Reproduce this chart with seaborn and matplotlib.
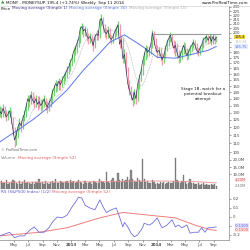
import numpy as np
import pandas as pd
import matplotlib
matplotlib.use("Agg")
import matplotlib.pyplot as plt
import seaborn as sns

# ---------------- data ----------------
first_open = 130.0
close = [131, 129, 133, 130, 127, 129, 131, 126, 119, 112,
         115, 120, 123, 121, 126, 129, 134, 140, 138, 143,
         139, 137, 140, 136, 138, 135, 137, 140, 136, 134,
         137, 139, 145, 148, 152, 150, 154, 151, 155, 158,
         160, 164, 166, 171, 174, 181, 183, 189, 193, 204,
         207, 202, 204, 197, 194, 196, 192, 187, 196, 199,
         197, 214, 216, 208, 201, 199, 203, 195, 193, 196,
         201, 204, 209, 188, 193, 174, 178, 164, 152, 147,
         143, 139, 145, 140, 151, 157, 162, 171, 177, 184,
         180, 182, 187, 200, 192, 184, 180, 182, 177, 173,
         177, 184, 190, 194, 198, 190, 184, 187, 180, 175,
         177, 182, 187, 182, 177, 180, 184, 187, 190, 187,
         182, 180, 184, 187, 193, 194, 196, 192, 196, 191,
         196, 192, 195.4]
high = [135, 134, 136, 135, 132, 132, 134, 132, 127, 120,
        118, 122, 126, 125, 128, 132, 137, 143, 143, 146,
        145, 142, 143, 142, 142, 140, 140, 143, 141, 138,
        140, 142, 148, 151, 155, 154, 157, 156, 158, 161,
        163, 167, 170, 174, 178, 185, 187, 193, 197, 208,
        211, 209, 208, 205, 200, 200, 198, 194, 199, 203,
        203, 217, 221, 218, 210, 205, 207, 205, 198, 200,
        205, 208, 213, 210, 197, 195, 183, 180, 166, 155,
        150, 146, 148, 147, 153, 160, 165, 174, 180, 187,
        186, 186, 190, 203, 202, 194, 187, 185, 184, 179,
        180, 187, 193, 197, 201, 199, 192, 191, 189, 182,
        181, 185, 190, 189, 184, 183, 187, 190, 193, 192,
        189, 184, 187, 190, 196, 197, 199, 198, 199, 198,
        199, 198, 197]
low = [127, 126, 127, 127, 124, 125, 127, 122, 115, 108,
       109, 113, 118, 117, 119, 124, 127, 132, 134, 136,
       136, 133, 134, 132, 133, 131, 132, 134, 132, 130,
       131, 134, 137, 142, 145, 146, 147, 147, 149, 152,
       154, 157, 160, 163, 167, 171, 177, 179, 185, 189,
       199, 196, 197, 191, 188, 189, 186, 181, 184, 192,
       192, 194, 208, 202, 196, 193, 195, 190, 188, 189,
       193, 197, 199, 184, 184, 170, 170, 160, 148, 143,
       139, 135, 136, 136, 138, 148, 154, 159, 168, 173,
       175, 176, 178, 184, 187, 180, 175, 176, 172, 168,
       170, 175, 181, 186, 190, 186, 179, 176, 175, 170,
       171, 174, 178, 178, 173, 174, 177, 181, 184, 183,
       178, 176, 177, 181, 184, 189, 190, 188, 189, 187,
       188, 188, 190]
volume_m = [4.5, 5.2, 3.8, 4.1, 6.0, 3.5, 4.2, 5.0, 6.5, 5.8,
            4.0, 3.6, 5.5, 3.2, 4.8, 6.2, 3.9, 5.1, 4.4, 3.7,
            4.6, 3.3, 5.0, 4.2, 7.2, 3.8, 4.5, 3.6, 5.3, 4.0,
            3.5, 4.8, 5.6, 4.1, 7.0, 4.4, 3.9, 5.2, 4.6, 3.8,
            4.9, 5.5, 4.0, 6.1, 4.7, 5.3, 3.9, 4.5, 6.0, 5.0,
            4.2, 3.6, 5.4, 4.3, 3.9, 4.8, 3.5, 5.7, 4.6, 4.0,
            4.4, 6.8, 5.2, 4.7, 3.8, 11.4, 5.0, 4.3, 6.2, 7.8,
            4.9, 5.5, 10.7, 6.0, 5.1, 7.0, 5.6, 6.4, 8.1, 5.9,
            12.8, 6.6, 5.3, 4.8, 7.4, 6.1, 5.0, 20.7, 6.8, 4.6,
            5.4, 4.2, 3.9, 6.3, 4.7, 3.6, 4.1, 3.4, 5.0, 3.8,
            4.5, 3.7, 4.2, 5.1, 3.9, 4.4, 5.6, 21.4, 6.5, 4.8,
            3.9, 5.2, 9.3, 4.6, 3.5, 4.0, 7.1, 3.8, 4.3, 3.2,
            3.6, 4.1, 2.9, 3.4, 3.9, 2.7, 3.3, 2.5, 3.0, 3.6,
            2.6, 3.1, 2.4]
ma30_weeks = [0, 10, 20, 30, 41, 51, 61, 67, 76, 87, 96, 107, 117, 127, 132]
ma30_vals = [110.9, 117.6, 124.9, 134.0, 146.8, 163.5, 179.4, 190.0, 197.8,
             185.8, 175.2, 174.4, 178.0, 182.0, 185.75]
vol_ma_weeks = [0, 20, 40, 60, 80, 100, 120, 132]
vol_ma_vals = [4.6, 4.7, 4.8, 5.0, 5.4, 5.5, 5.0, 4.2]
rs_weeks = [0, 6, 9, 12, 15, 18, 21, 24, 27, 30, 32, 35, 38, 41, 43, 44, 46, 48,
            50, 52, 55, 58, 61, 63, 65, 68, 71, 73, 75, 76, 78, 80, 82, 84, 87,
            88, 91, 93, 96, 98, 99, 102, 105, 107, 109, 111, 114, 116, 118, 121,
            123, 125, 127, 129, 132]
rs_vals = [-0.21, -0.17, -0.23, -0.21, -0.21, -0.15, -0.11, -0.17, -0.17, -0.12,
           -0.06, 0.00, -0.01, 0.02, 0.08, 0.11, 0.16, 0.22, 0.21, 0.13, 0.10,
           0.08, 0.19, 0.11, 0.05, 0.08, 0.10, 0.00, -0.11, -0.06, -0.11, -0.18,
           -0.22, -0.20, -0.12, -0.07, -0.09, -0.07, -0.01, -0.09, -0.12, -0.09,
           -0.03, -0.11, -0.09, -0.12, -0.09, -0.18, -0.17, -0.17, -0.12, -0.17,
           -0.12, -0.12, -0.11]
rs_ma_weeks = [0, 24, 41, 61, 75, 91, 107, 119, 128, 132]
rs_ma_vals = [-0.21, -0.17, -0.12, -0.01, 0.05, 0.02, -0.01, -0.09, -0.14, -0.15]
month_ticks = ["2012-05-01", "2012-07-01", "2012-09-01", "2012-11-01", "2013-01-01",
               "2013-03-01", "2013-05-01", "2013-07-01", "2013-09-01", "2013-11-01",
               "2014-01-01", "2014-03-01", "2014-05-01", "2014-07-01", "2014-09-01"]
month_labels = ["May", "Jul", "Sep", "Nov", "2013", "Mar", "May", "Jul", "Sep", "Nov",
                "2014", "Mar", "May", "Jul", "Sep"]
price_ticks = list(range(105, 231, 5))
price_tick_hidden = [185, 190, 195]
resistance_level = 199.0

# ---------------- setup ----------------
sns.set_theme(style="white")
plt.rcParams['font.family'] = ['DejaVu Sans']
plt.rcParams['axes.linewidth'] = 0.5

dates = pd.date_range(end="2014-09-12", periods=len(close), freq="W-FRI")
df = pd.DataFrame({"date": dates, "close": close, "high": high, "low": low,
                   "volume": volume_m})
df["open"] = df["close"].shift(1).fillna(first_open)
df["ma10"] = df["close"].rolling(10).mean()
up = df["close"] >= df["open"]

ma30 = pd.DataFrame({"date": dates[ma30_weeks], "v": ma30_vals})
vma = pd.DataFrame({"date": dates[vol_ma_weeks], "v": vol_ma_vals})
rs = pd.DataFrame({"date": dates[rs_weeks], "v": rs_vals})
rsma = pd.DataFrame({"date": dates[rs_ma_weeks], "v": rs_ma_vals})

W, H = 250, 250
fig = plt.figure(figsize=(2.5, 2.5), dpi=100)
fig.patch.set_facecolor("white")

def fx(px): return px / W
def fy(py): return 1 - py / H

axw = 229
ax_p = fig.add_axes([0, fy(154), fx(axw), (154 - 6) / H])
ax_v = fig.add_axes([0, fy(189), fx(axw), (189 - 154) / H], sharex=ax_p)
ax_r = fig.add_axes([0, fy(240), fx(axw), (240 - 189) / H], sharex=ax_p)

xleft = pd.Timestamp("2012-03-03")
xright = xleft + pd.Timedelta(days=977)

GREEN = "#74d474"
PINK = "#f49ab0"
NAVY = "#27275e"
BLUE = "#5b78e8"
TS = 2.9
VS = 2.6

# ---------------- price panel ----------------
ax_p.vlines(df["date"][up], df["low"][up], df["high"][up], color=GREEN, lw=0.9)
ax_p.vlines(df["date"][~up], df["low"][~up], df["high"][~up], color=PINK, lw=0.9)
sns.lineplot(data=df, x="date", y="ma10", ax=ax_p, color="#b5b5b5", lw=0.6,
             linestyle=(0, (1, 1)))
sns.lineplot(data=ma30, x="date", y="v", ax=ax_p, color=BLUE, lw=0.7)
sns.lineplot(data=df, x="date", y="close", ax=ax_p, color=NAVY, lw=0.45)
ax_p.hlines(resistance_level, dates[93], dates[-1] + pd.Timedelta(weeks=3),
            color="#9a9a9a", lw=0.8)
ax_p.set_yscale("log")
ax_p.set_ylim(103.9, 231.2)
ax_p.set_yticks(price_ticks)
ax_p.set_yticklabels(["" if t in price_tick_hidden else str(t) for t in price_ticks])
ax_p.yaxis.set_minor_locator(matplotlib.ticker.NullLocator())
ax_p.text(0.885, 0.405, "Stage 1B, watch for a\npotential breakout\nattempt",
          transform=ax_p.transAxes, ha="center", va="center", fontsize=3.0,
          color="#222222", linespacing=1.25)
ax_p.text(0.005, 0.012, "© ProRealTime.com", transform=ax_p.transAxes,
          fontsize=2.6, color="#666666", ha="left", va="bottom")

# right-side value labels on price
last_ma10 = df["ma10"].iloc[-1]
ytr = ax_p.get_yaxis_transform()
ax_p.text(1.025, close[-1], f"{close[-1]:.1f}", transform=ytr,
          fontsize=VS, ha="left", va="center", color="#333333",
          bbox=dict(boxstyle="square,pad=0.1", fc="#f3d23a", ec="none"))
ax_p.text(1.025, 190.6, f"{last_ma10:.2f}", transform=ytr,
          fontsize=VS, ha="left", va="center", color="#bbbbbb")
ax_p.text(1.025, ma30_vals[-1], f"{ma30_vals[-1]:.2f}", transform=ytr,
          fontsize=VS, ha="left", va="center", color=BLUE,
          bbox=dict(boxstyle="square,pad=0.1", fc="#e6ecff", ec="none"))

# ---------------- volume panel ----------------
ax_v.bar(df["date"], df["volume"], width=5.5, color="#8e8e8e", edgecolor="#555555",
         lw=0.2)
sns.lineplot(data=vma, x="date", y="v", ax=ax_v, color="#f08a8a", lw=0.6)
ax_v.set_ylim(0, 24.1)
ax_v.set_yticks([10, 15, 20])
ax_v.set_yticklabels(["10.0M", "15.0M", "20.0M"])
vtr = ax_v.get_yaxis_transform()
ax_v.text(1.025, 6.2, f"{vol_ma_vals[-1]:.2f}M", transform=vtr, fontsize=VS,
          ha="left", va="center", color="#e06060",
          bbox=dict(boxstyle="square,pad=0.05", fc="#fde3e3", ec="none"))
ax_v.text(1.025, 2.0, f"{volume_m[-1]:.2f}M", transform=vtr, fontsize=VS,
          ha="left", va="center", color="#777777")

# ---------------- RS panel ----------------
sns.lineplot(data=rsma, x="date", y="v", ax=ax_r, color="#f07d7d", lw=0.7)
sns.lineplot(data=rs, x="date", y="v", ax=ax_r, color="#6f6fdc", lw=0.6)
ax_r.set_ylim(-0.256, 0.311)
ax_r.set_yticks([-0.2, -0.1, 0, 0.1, 0.2])
ax_r.set_yticklabels(["-0.2", "", "0", "0.1", "0.2"])
rtr = ax_r.get_yaxis_transform()
ax_r.text(1.025, -0.095, f"{rs_vals[-1]:.4f}", transform=rtr,
          fontsize=VS, ha="left", va="center", color="#5555cc",
          bbox=dict(boxstyle="square,pad=0.05", fc="#e3e3ff", ec="none"))
ax_r.text(1.025, -0.143, f"{rs_ma_vals[-1]:.4f}", transform=rtr,
          fontsize=VS, ha="left", va="center", color="#e05050",
          bbox=dict(boxstyle="square,pad=0.05", fc="#fde3e3", ec="none"))

# ---------------- common axis styling ----------------
for ax in (ax_p, ax_v, ax_r):
    ax.set_xlim(xleft, xright)
    ax.set_xlabel("")
    ax.set_ylabel("")
    ax.yaxis.tick_right()
    ax.tick_params(axis="y", labelsize=TS, length=1.5, width=0.4, pad=1,
                   colors="#555555", labelcolor="#444444", right=True, left=False)
    for s in ("left", "top"):
        ax.spines[s].set_visible(False)
    for s in ("right", "bottom"):
        ax.spines[s].set_color("#888888")
        ax.spines[s].set_linewidth(0.5)
    ax.set_facecolor("white")

ax_r.set_xticks(pd.to_datetime(month_ticks))
ax_r.set_xticklabels(month_labels)
ax_r.tick_params(axis="x", labelsize=TS, length=1.5, width=0.4, pad=1,
                 colors="#555555", labelcolor="#444444", bottom=True)
for lab in ax_r.get_xticklabels():
    if lab.get_text() in ("2013", "2014"):
        lab.set_fontweight("bold")
for ax in (ax_p, ax_v):
    ax.tick_params(axis="x", bottom=False, labelbottom=False)

# ---------------- titles & legends ----------------
renderer = fig.canvas.get_renderer()

def seq_text(x0, y, parts, size):
    x = x0
    for s, c in parts:
        t = fig.text(x, y, s, color=c, fontsize=size, ha="left", va="center")
        bb = t.get_window_extent(renderer=renderer)
        x += bb.width / fig.bbox.width + 0.006

fig.text(fx(1), fy(3), "▲", color="#2e9e2e", fontsize=3.2, ha="left", va="center")
seq_text(fx(6), fy(3), [("MONY - MONEYSUP.", "#111111"), ("195.4 (+1.74%)", "#111111"),
                        ("Weekly  Sep 11 2014", "#111111")], 3.0)
fig.text(fx(248), fy(3), "www.ProRealTime.com", fontsize=3.0, ha="right",
         va="center", color="#111111")
seq_text(fx(1), fy(8.5), [("Price", "#111111"), ("Moving average (Simple 1)", "#3a3a8a"),
                          ("Moving average (Simple 30)", BLUE),
                          ("Moving average (Simple 10)", "#b0b0b0")], 3.0)
seq_text(fx(1), fy(158), [("Volume", "#888888"), ("Moving average (Simple 52)", "#e06060")], 3.0)
seq_text(fx(1), fy(192), [("RS (S&P500 Index) (1/2)", "#5555cc"),
                          ("Moving average (Simple 52)", "#e06060")], 3.0)

fig.add_artist(plt.Line2D([0, 1], [fy(5.5), fy(5.5)], color="#cccccc", lw=0.4))

fig.savefig("out.png", dpi=100, facecolor="white")
